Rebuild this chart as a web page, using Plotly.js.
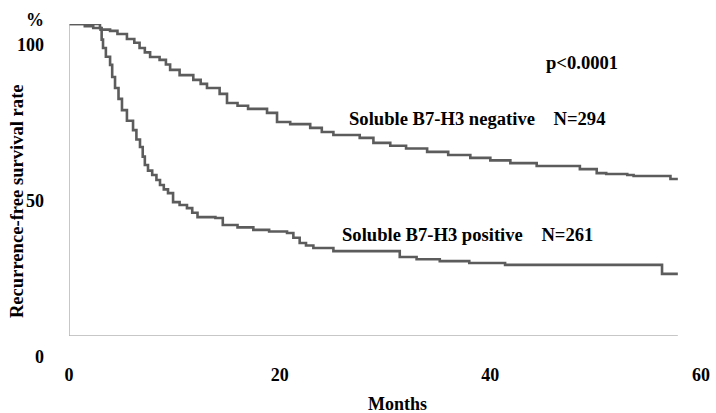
<!DOCTYPE html>
<html>
<head>
<meta charset="utf-8">
<script src="https://cdn.plot.ly/plotly-3.0.1.min.js"></script>
<style>
html,body{margin:0;padding:0;background:#fff;}
#chart{width:716px;height:413px;}
</style>
</head>
<body>
<div id="chart"></div>
<script>
// Data
const negMonths = [0,1.5,2.3,3.0,3.9,4.6,5.5,6.2,6.7,7.2,7.7,8.6,9.2,9.6,10.5,11.8,12.5,13.1,14.3,15.0,16.0,17.0,18.8,19.75,21.0,22.9,24.0,25.1,27.6,28.9,30.5,32.0,34.0,36.0,38.1,40.0,41.9,44.4,47.6,48.5,50.1,51.0,53.0,53.6,56.8,57.1,57.8];
const negRate   = [100,99.3,98.7,98.2,97.8,96.8,95.2,94.0,92.3,90.9,89.4,88.5,87.0,85.3,83.6,82.1,80.8,79.5,77.6,74.7,73.8,72.8,71.5,68.6,67.9,66.7,65.4,64.4,63.5,61.9,61.0,60.1,59.0,58.0,57.1,56.3,55.4,54.5,54.5,53.5,52.2,51.9,51.6,51.3,51.3,50.3,50.3];

const posMonths = [0,2.66,2.94,3.1,3.23,3.5,3.9,4.1,4.37,4.7,5.03,5.5,6.08,6.4,6.74,7.0,7.2,7.5,7.9,8.3,8.64,9.0,9.4,9.88,10.5,11.2,11.7,12.2,13.9,14.6,16.0,17.5,19.0,20.7,21.3,21.9,22.5,23.2,25.1,28.8,31.4,33.0,35.2,38.0,41.4,56.3,57.8];
const posRate   = [100,100,98.7,95,92.3,89.5,86.9,83,79.5,76,72.4,69,66.0,63,60.6,57.5,54.8,53,51.6,50,48.4,47,45.8,42.9,42,41.0,39.5,38.1,37.8,35.6,34.8,34.0,33.5,33.0,31.5,29.8,29,28.2,27.2,27.2,25.3,24.6,24.0,23.4,22.8,19.9,19.9];

const xTicks = [0,20,40,60];
const yTicks = [0,50,100];

const labelNeg = "Soluble B7-H3 negative\u00a0\u00a0\u00a0\u00a0N=294";
const labelPos = "Soluble B7-H3 positive\u00a0\u00a0\u00a0\u00a0N=261";
const pText = "p<0.0001";
const xTitle = "Months";
const yTitle = "Recurrence-free survival rate";
const yUnit = "%";

const FONT = {family: "Liberation Serif, Times New Roman, serif", size: 18, color: "#000"};
const ANN_FONT = {family: "Liberation Serif, Times New Roman, serif", size: 18.6, color: "#000"};
const LINE_COLOR = "#5c5c5c";
const AXIS_COLOR = "#b4b4b4";

const traces = [
  {x: negMonths, y: negRate, type: "scatter", mode: "lines",
   line: {shape: "hv", color: LINE_COLOR, width: 2.6}, hoverinfo: "skip"},
  {x: posMonths, y: posRate, type: "scatter", mode: "lines",
   line: {shape: "hv", color: LINE_COLOR, width: 2.6}, hoverinfo: "skip"}
];

const lastMonth = Math.max(negMonths[negMonths.length-1], posMonths[posMonths.length-1]);

const bold = s => "<b>" + s + "</b>";

const layout = {
  width: 716, height: 413,
  margin: {l: 69, r: 15, t: 24, b: 77},
  paper_bgcolor: "#fff", plot_bgcolor: "#fff",
  showlegend: false,
  font: FONT,
  xaxis: {
    range: [0, 60], showgrid: false, zeroline: false, showline: false,
    tickvals: xTicks, ticktext: xTicks.map(v => bold(String(v))),
    ticks: "", ticklabelstandoff: 26, tickfont: FONT, fixedrange: true
  },
  yaxis: {
    range: [0, 100], showgrid: false, zeroline: false, showline: false,
    tickvals: yTicks, ticktext: yTicks.map(v => bold(String(v))),
    ticks: "", ticklabelstandoff: 24, ticklabelshift: 21, tickfont: FONT, fixedrange: true
  },
  shapes: [
    {type: "line", xref: "x", yref: "y", x0: 0, x1: 0, y0: 0, y1: 100,
     line: {color: AXIS_COLOR, width: 1.5}},
    {type: "line", xref: "x", yref: "y", x0: 0, x1: lastMonth, y0: 0, y1: 0,
     line: {color: AXIS_COLOR, width: 1.5}}
  ],
  annotations: [
    {text: bold(pText), xref: "paper", yref: "paper", x: 0.812, y: 0.878,
     showarrow: false, font: ANN_FONT, xanchor: "center", yanchor: "middle"},
    {text: bold(labelNeg), xref: "paper", yref: "paper", x: 0.645, y: 0.696,
     showarrow: false, font: ANN_FONT, xanchor: "center", yanchor: "middle"},
    {text: bold(labelPos), xref: "paper", yref: "paper", x: 0.631, y: 0.324,
     showarrow: false, font: ANN_FONT, xanchor: "center", yanchor: "middle"},
    {text: bold(yUnit), xref: "paper", yref: "paper", x: -0.054, y: 1.014,
     showarrow: false, font: FONT, xanchor: "center", yanchor: "middle"},
    {text: bold(yTitle), xref: "paper", yref: "paper", x: -0.082, y: 0.433,
     textangle: -90, showarrow: false, font: ANN_FONT, xanchor: "center", yanchor: "middle"},
    {text: bold(xTitle), xref: "paper", yref: "paper", x: 0.52, y: -0.218,
     showarrow: false, font: FONT, xanchor: "center", yanchor: "middle"}
  ]
};

Plotly.newPlot("chart", traces, layout, {displayModeBar: false, staticPlot: true});
</script>
</body>
</html>
